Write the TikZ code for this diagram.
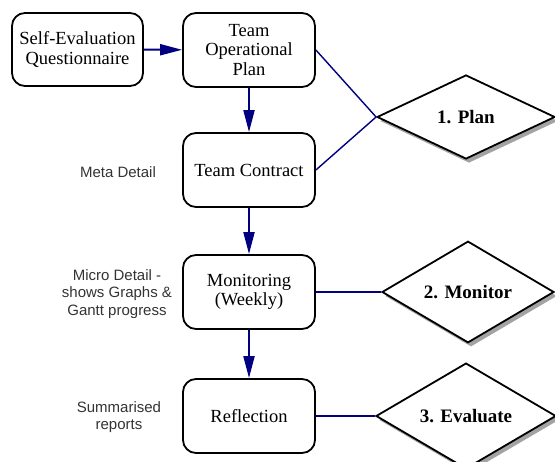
\documentclass[tikz,border=0pt]{standalone}
\usepackage{fontspec}
\setmainfont{Liberation Serif}
\newfontfamily\labelfont{Liberation Sans}
\usetikzlibrary{arrows.meta,shapes.geometric,shadows}
\definecolor{navyline}{RGB}{0,0,128}
\begin{document}
\begin{tikzpicture}[x=1pt,y=-1pt,
  stagebox/.style={draw=black, line width=1.8pt, rounded corners=13pt, minimum width=132pt, minimum height=74pt, align=center, font=\fontsize{18.5}{19.5}\selectfont, inner sep=2pt, fill=white},
  phase/.style={diamond, draw=black, line width=1.8pt, fill=white, inner sep=0pt, font=\bfseries\fontsize{19}{21}\selectfont, drop shadow={shadow xshift=3pt, shadow yshift=-4pt, fill=black!45, opacity=0.8}},
  flow/.style={draw=navyline, line width=2pt, -{Triangle[length=22pt,width=11pt]}},
  link/.style={draw=navyline, line width=1.4pt},
  note/.style={align=center, font=\labelfont\fontsize{15}{17.5}\selectfont, text=black!80}
]
\useasboundingbox (0,0) rectangle (555,462);

\node[stagebox, minimum width=131pt, minimum height=73pt] (se) at (77.5,49.5) {Self-Evaluation\\Questionnaire};
\node[stagebox] (top) at (249,50) {Team\\Operational\\Plan};
\node[stagebox] (tc) at (249,170) {Team Contract};
\node[stagebox] (mon) at (249,292) {Monitoring\\(Weekly)};
\node[stagebox] (ref) at (249,416) {Reflection};

\node[phase, minimum width=178pt, minimum height=84pt] (plan) at (466,117) {1. Plan};
\node[phase, minimum width=172pt, minimum height=88pt] (monitor) at (468,292) {2. Monitor};
\node[phase, minimum width=180pt, minimum height=86pt] (eval) at (466,416) {3. Evaluate};

\node[note] (meta) at (118,172) {Meta Detail};
\node[note] (micro) at (117,294) {Micro Detail -\\shows Graphs \&\\Gantt progress};
\node[note] (summ) at (119,417) {Summarised\\reports};

\draw[flow] (se) -- (top);
\draw[flow] (top) -- (tc);
\draw[flow] (tc) -- (mon);
\draw[flow] (mon) -- (ref);

\draw[link] (top.east) -- (plan.west);
\draw[link] (tc.east) -- (plan.west);
\draw[link] (mon.east) -- (monitor.west);
\draw[link] (ref.east) -- (eval.west);
\end{tikzpicture}
\end{document}
